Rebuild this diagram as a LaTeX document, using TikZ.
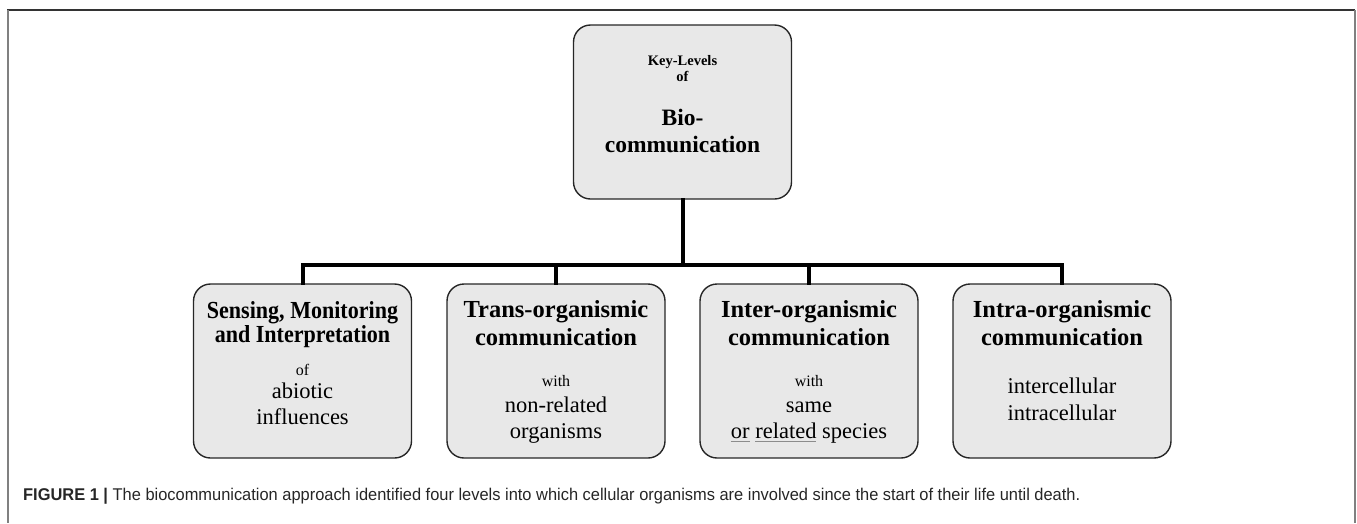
\documentclass[tikz,border=0pt]{standalone}
\usepackage{fontspec}
\usepackage{graphicx}
\setmainfont{Liberation Serif}
\newfontfamily\capfont{Liberation Sans}
\newcommand\grayul[1]{\setbox0\hbox{#1}\rlap{\color{black!45}\rule[-4pt]{\wd0}{0.9pt}}\box0\relax}
\newcommand\narrowed[1]{\scalebox{0.9}[1]{#1}}
\begin{document}
\begin{tikzpicture}[x=1pt,y=-1pt,
  box/.style={draw=black!85, line width=1.4pt, fill=black!9, rounded corners=17pt,
    minimum width=218pt, minimum height=174pt, inner sep=0pt},
  txt/.style={anchor=base, inner sep=0pt, text=black},
  bigb/.style={txt, font=\fontsize{24.5}{26}\selectfont\bfseries},
  topb/.style={txt, font=\fontsize{23.5}{26}\selectfont\bfseries},
  smallb/.style={txt, font=\fontsize{14.5}{16}\selectfont\bfseries},
  reg/.style={txt, font=\fontsize{22.5}{24}\selectfont},
  small/.style={txt, font=\fontsize{16}{18}\selectfont},
  conn/.style={line width=4pt, black, line cap=rect, line join=miter},
  frameL/.style={line width=2pt, black!50},
  frameT/.style={line width=1.5pt, black!80}]
\useasboundingbox (0,0) rectangle (1357,523);
% frame
\draw[frameT] (7,10) -- (1355,10);
\draw[frameL] (7.5,10) -- (7.5,523);
\draw[frameL] (1354.5,10) -- (1354.5,523);
% boxes
\node[box] (top) at (682.5,112) {};
\node[box] (b1) at (302.5,371) {};
\node[box] (b2) at (556,371) {};
\node[box] (b3) at (809,371) {};
\node[box] (b4) at (1062,371) {};
% connectors
\coordinate (bar) at (682.5,265);
\draw[conn] (top.south) -- (bar);
\draw[conn] (b1.north) -- (b1.north |- bar) -- (b4.north |- bar) -- (b4.north);
\draw[conn] (b2.north) -- (b2.north |- bar);
\draw[conn] (b3.north) -- (b3.north |- bar);
% top text
\node[smallb] (t1) at (682.5,65) {Key-Levels};
\node[smallb] (t2) at (682.5,81) {of};
\node[topb] (t3) at (682.5,125) {Bio-};
\node[topb] (t4) at (682.5,152) {communication};
% box 1
\node[bigb] (a1) at (302.5,318) {\narrowed{Sensing, Monitoring}};
\node[bigb] (a2) at (302.5,342) {\narrowed{and Interpretation}};
\node[small] (a3) at (302.5,375) {of};
\node[reg] (a4) at (302.5,398) {abiotic};
\node[reg] (a5) at (302.5,424) {influences};
% box 2
\node[bigb] (c1) at (556,317) {Trans-organismic};
\node[bigb] (c2) at (556,345) {communication};
\node[small] (c3) at (556,386) {with};
\node[reg] (c4) at (556,412) {non-related};
\node[reg] (c5) at (556,438) {organisms};
% box 3
\node[bigb] (d1) at (809,317) {Inter-organismic};
\node[bigb] (d2) at (809,345) {communication};
\node[small] (d3) at (809,386) {with};
\node[reg] (d4) at (809,412) {same};
\node[reg] (d5) at (809,438) {\grayul{or} \grayul{related} species};
% box 4
\node[bigb] (e1) at (1062,317) {Intra-organismic};
\node[bigb] (e2) at (1062,345) {communication};
\node[reg] (e3) at (1062,393) {intercellular};
\node[reg] (e4) at (1062,420) {intracellular};
% caption
\node[txt, anchor=base west, text=black!85] (cap) at (23,500) {\resizebox{1057pt}{\height}{\capfont\fontsize{17}{19}\selectfont\textbf{FIGURE 1 |} The biocommunication approach identified four levels into which cellular organisms are involved since the start of their life until death.}};
\end{tikzpicture}
\end{document}
